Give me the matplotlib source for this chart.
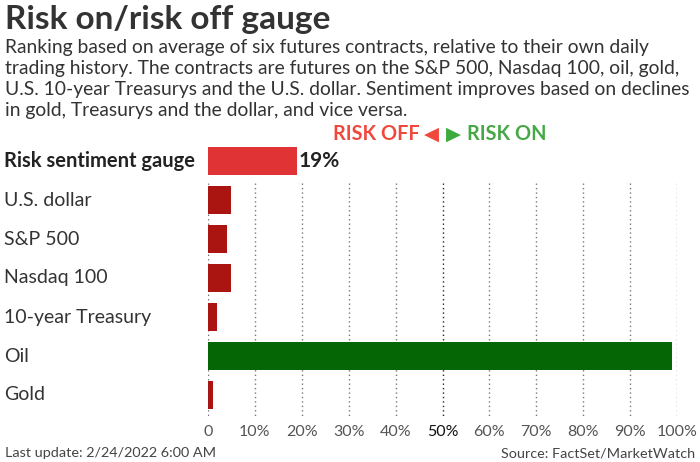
import matplotlib.pyplot as plt

# Data
categories = ["Risk sentiment gauge", "U.S. dollar", "S&P 500", "Nasdaq 100",
              "10-year Treasury", "Oil", "Gold"]
values = [19, 5, 4, 5, 2, 99, 1]
bar_colors = ["#e03335", "#aa1411", "#aa1411", "#aa1411", "#aa1411", "#046604", "#aa1411"]
ticks = [0, 10, 20, 30, 40, 50, 60, 70, 80, 90, 100]
tick_labels = ["0", "10%", "20%", "30%", "40%", "50%", "60%", "70%", "80%", "90%", "100%"]
subtitle_lines = [
    "Ranking based on average of six futures contracts, relative to their own daily",
    "trading history. The contracts are futures on the S&P 500, Nasdaq 100, oil, gold,",
    "U.S. 10-year Treasurys and the U.S. dollar. Sentiment improves based on declines",
    "in gold, Treasurys and the dollar, and vice versa.",
]

plt.rcParams['font.family'] = ['Lato', 'DejaVu Sans']

W, H = 700, 462
fig = plt.figure(figsize=(W / 100, H / 100), dpi=100)


def px(x, y):
    return x / W, 1 - y / H


# axes: x 0..100 maps to 208..677 px; rows are 39 px apart, first row centred at 161 px
row_h = 39
y_top, y_bot = -0.6, 6.6
top_px = 161 + y_top * row_h
bot_px = 161 + y_bot * row_h
ax = fig.add_axes([208 / W, 1 - bot_px / H, (677 - 208) / W, (bot_px - top_px) / H])
ax.set_xlim(0, 100)
ax.set_ylim(y_bot, y_top)

# dotted grid, only below the gauge row
for t in ticks:
    c = "#222222" if t == 50 else "#777777"
    ax.vlines(t, 0.56, y_bot, colors=c, linestyles=(0, (1, 2.2)), linewidth=1.0, zorder=1)

rows = list(range(len(categories)))
ax.barh(rows, values, height=0.7, color=bar_colors, zorder=2)

for spine in ax.spines.values():
    spine.set_visible(False)
ax.set_yticks([])
ax.set_xticks(ticks)
ax.set_xticklabels(tick_labels)
ax.tick_params(axis='x', length=0, pad=5, labelsize=11.5, labelcolor="#555555")
ax.get_xticklabels()[5].set_color("#111111")

# category labels
for i, name in enumerate(categories):
    if i == 0:
        ax.text(-0.435, i, name, transform=ax.get_yaxis_transform(), ha='left', va='center',
                fontsize=14.5, fontweight='bold', color="#222222")
    else:
        ax.text(-0.435, i, name, transform=ax.get_yaxis_transform(), ha='left', va='center',
                fontsize=14, color="#333333")

ax.text(values[0] + 0.4, 0, f"{values[0]}%", ha='left', va='center',
        fontsize=15, fontweight='bold', color="#222222")

# title and subtitle
x0, y0 = px(5, 29)
fig.text(x0, y0, "Risk on/risk off gauge", ha='left', va='baseline',
         fontsize=24, fontweight='bold', color="#333333")
for k, line in enumerate(subtitle_lines):
    x0, y0 = px(5, 53 + 21 * k)
    fig.text(x0, y0, line, ha='left', va='baseline', fontsize=13.9, color="#333333")

# risk off / risk on legend
x0, y0 = px(420, 134)
fig.text(x0, y0, "RISK OFF", ha='right', va='center', fontsize=14.3, fontweight='bold', color="#f0483c")
x0, y0 = px(431, 134)
fig.text(x0, y0, "◀", ha='center', va='center', fontsize=14, color="#f0483c", family='DejaVu Sans')
x0, y0 = px(453, 134)
fig.text(x0, y0, "▶", ha='center', va='center', fontsize=14, color="#3daa3d", family='DejaVu Sans')
x0, y0 = px(467, 134)
fig.text(x0, y0, "RISK ON", ha='left', va='center', fontsize=14.3, fontweight='bold', color="#45a845")

# footer
x0, y0 = px(5, 453)
fig.text(x0, y0, "Last update: 2/24/2022 6:00 AM", ha='left', va='center', fontsize=10.4, color="#444444")
x0, y0 = px(695, 453)
fig.text(x0, y0, "Source: FactSet/MarketWatch", ha='right', va='center', fontsize=10.4, color="#444444")

fig.savefig("out.png", dpi=100)
